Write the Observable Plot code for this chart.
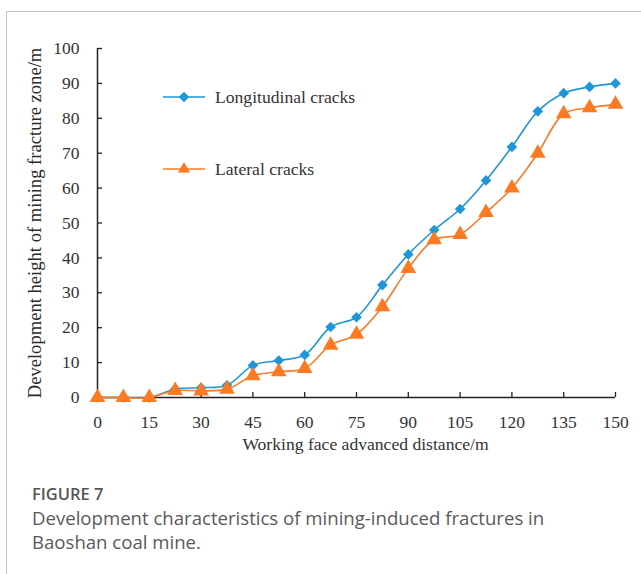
<!DOCTYPE html>
<html>
<head>
<meta charset="utf-8">
<script src="https://cdn.jsdelivr.net/npm/d3@7"></script>
<script src="https://cdn.jsdelivr.net/npm/@observablehq/plot@0.6"></script>
<style>
  html, body { margin: 0; padding: 0; background: #fff; }
  body { width: 641px; height: 574px; position: relative; overflow: hidden; }
  #frame { position: absolute; left: 6px; top: 11px; width: 700px; height: 640px;
           border-left: 1px solid #c4c4c4; border-top: 1px solid #c4c4c4; }
  #chart { position: absolute; left: 0; top: 0; }
  #caption { position: absolute; left: 32px; top: 482px; font-family: "Open Sans", sans-serif; color: #5a5a5a; }
  #caption .fig { font-size: 16.5px; font-weight: 600; color: #555; line-height: 24px; }
  #caption .desc { font-size: 18.6px; font-weight: 400; line-height: 24px; white-space: nowrap; }
</style>
</head>
<body>
<div id="frame"></div>
<div id="chart"></div>
<div id="caption">
  <div class="fig">FIGURE 7</div>
  <div class="desc">Development characteristics of mining-induced fractures in<br>Baoshan coal mine.</div>
</div>
<script>
// Data
const distance = [0, 7.5, 15, 22.5, 30, 37.5, 45, 52.5, 60, 67.5, 75, 82.5, 90, 97.5, 105, 112.5, 120, 127.5, 135, 142.5, 150];
const longitudinal = [0, 0, 0, 2.4, 2.8, 3.5, 9.2, 10.6, 12.2, 20.2, 23, 32.2, 41, 48, 54, 62.2, 71.8, 82, 87.2, 89, 90];
const lateral = [0, 0, 0, 2, 1.9, 2.4, 6.2, 7.4, 8.3, 15, 18.1, 26, 37, 45.2, 46.7, 53, 60, 70, 81.3, 83, 84];
const seriesNames = ["Longitudinal cracks", "Lateral cracks"];
const seriesColors = ["#1f96d8", "#fb7a22"];
const xTicks = [0, 15, 30, 45, 60, 75, 90, 105, 120, 135, 150];
const yTicks = [0, 10, 20, 30, 40, 50, 60, 70, 80, 90, 100];
const xTitle = "Working face advanced distance/m";
const yTitle = "Development height of mining fracture zone/m";

const longData = distance.map((d, i) => ({x: d, y: longitudinal[i]}));
const latData = distance.map((d, i) => ({x: d, y: lateral[i]}));

const W = 641, H = 470;
const mL = 97, mR = 26, mT = 48, mB = 73;
const frameW = W - mL - mR, frameH = H - mT - mB;

const plot = Plot.plot({
  width: W,
  height: H,
  marginLeft: mL,
  marginRight: mR,
  marginTop: mT,
  marginBottom: mB,
  style: {fontFamily: "'Liberation Serif', 'Times New Roman', serif", fontSize: "17.5px", background: "transparent", overflow: "visible"},
  x: {domain: [0, 150]},
  y: {domain: [0, 100]},
  marks: [
    Plot.axisX({ticks: xTicks, tickSize: 0, tickPadding: 18, label: null, fill: "#333"}),
    Plot.axisY({ticks: yTicks, tickSize: 0, tickPadding: 18, label: null, fill: "#333"}),
    Plot.tickX(xTicks, {x: d => d, insetTop: frameH - 5, stroke: "#222", strokeWidth: 1.3}),
    Plot.tickY(yTicks, {y: d => d, insetRight: frameW - 5, stroke: "#222", strokeWidth: 1.3}),
    Plot.ruleY([0], {stroke: "#222", strokeWidth: 1.5}),
    Plot.ruleX([0], {stroke: "#222", strokeWidth: 1.5}),
    Plot.line(longData, {x: "x", y: "y", curve: "catmull-rom", stroke: seriesColors[0], strokeWidth: 1.6}),
    Plot.dot(longData, {x: "x", y: "y", symbol: "diamond2", r: 4.8, fill: seriesColors[0], stroke: "none"}),
    Plot.line(latData, {x: "x", y: "y", curve: "catmull-rom", stroke: seriesColors[1], strokeWidth: 1.6}),
    Plot.dot(latData, {x: "x", y: "y", symbol: "triangle", r: 5.8, fill: seriesColors[1], stroke: "none"}),
    Plot.text([xTitle], {frameAnchor: "bottom", dx: 9, dy: 52, fill: "#333", fontSize: 17.6}),
    Plot.text([yTitle], {frameAnchor: "left", textAnchor: "middle", lineAnchor: "middle", dx: -62, dy: 0, rotate: -90, fill: "#2a2a2a", fontSize: 18.6})
  ]
});

// Legend
const svg = d3.select(plot);
const legend = svg.append("g");
const legendRows = [
  {name: seriesNames[0], color: seriesColors[0], sym: d3.symbolDiamond2, size: Math.PI * 4.8 * 4.8, y: 97},
  {name: seriesNames[1], color: seriesColors[1], sym: d3.symbolTriangle2, size: Math.PI * 5.8 * 5.8, y: 169}
];
legendRows.forEach(r => {
  legend.append("line").attr("x1", 163).attr("x2", 205).attr("y1", r.y).attr("y2", r.y)
    .attr("stroke", r.color).attr("stroke-width", 1.6);
  legend.append("path").attr("d", d3.symbol(r.sym, r.size)()).attr("transform", `translate(184,${r.y})`)
    .attr("fill", r.color);
  legend.append("text").attr("x", 215).attr("y", r.y).attr("dy", "0.32em")
    .attr("text-anchor", "start")
    .attr("fill", "#333").attr("font-size", 17.6).text(r.name);
});

document.getElementById("chart").appendChild(plot);
</script>
</body>
</html>
